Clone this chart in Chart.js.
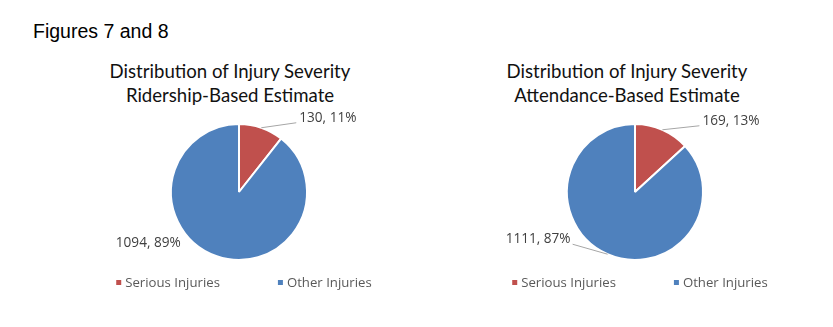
<!DOCTYPE html>
<html>
<head>
<meta charset="utf-8">
<script src="https://cdn.jsdelivr.net/npm/chart.js@4"></script>
<style>
  html, body { margin: 0; padding: 0; background: #fff; overflow: hidden; }
  body { width: 833px; height: 327px; position: relative; }
  .fig { position: absolute; left: 33px; top: 20px; font: 19.5px "Liberation Sans", Arial, sans-serif; color: #000; }
  .ttl { position: absolute; top: 59px; width: 400px; text-align: center; font: 18.6px Lato, sans-serif; line-height: 24px; color: #111; }
  .box { position: absolute; top: 0; width: 390px; height: 327px; }
</style>
</head>
<body>
<div class="fig">Figures 7 and 8</div>
<div class="ttl" id="t1" style="left:30px"></div>
<div class="ttl" id="t2" style="left:427px"></div>
<div class="box" style="left:44px"><canvas id="pie1"></canvas></div>
<div class="box" style="left:440px"><canvas id="pie2"></canvas></div>
<script>
(() => {
  'use strict';

  const categories = ['Serious Injuries', 'Other Injuries'];
  const ridership = [130, 1094];
  const ridershipPct = [11, 89];
  const attendance = [169, 1111];
  const attendancePct = [13, 87];
  const titles1 = ['Distribution of Injury Severity', 'Ridership-Based Estimate'];
  const titles2 = ['Distribution of Injury Severity', 'Attendance-Based Estimate'];

  const colors = ['#C0504D', '#4F81BD'];

  document.getElementById('t1').innerHTML = titles1.join('<br>');
  document.getElementById('t2').innerHTML = titles2.join('<br>');

  // labels "value, pct%" with leader lines, placed relative to the arc edge
  const pieLabels = {
    id: 'pieLabels',
    afterDatasetsDraw(chart, args, opts) {
      const c = chart.ctx;
      const meta = chart.getDatasetMeta(0);
      const vals = chart.data.datasets[0].data;
      c.save();
      c.font = '13.6px "Open Sans", sans-serif';
      c.fillStyle = '#404040';
      c.textBaseline = 'middle';
      meta.data.forEach((arc, i) => {
        const p = arc.getProps(['x', 'y', 'startAngle', 'endAngle', 'outerRadius'], true);
        const mid = (p.startAngle + p.endAngle) / 2;
        const ex = p.x + Math.cos(mid) * p.outerRadius;
        const ey = p.y + Math.sin(mid) * p.outerRadius;
        const s = opts.spots[i];
        const tx = ex + s.dx;
        const ty = ey + s.dy;
        if (s.line) {
          c.strokeStyle = '#A6A6A6';
          c.lineWidth = 1;
          c.beginPath();
          c.moveTo(ex, ey);
          c.lineTo(s.align === 'left' ? tx - 3 : tx + 2, ty + 5);
          c.stroke();
        }
        c.textAlign = s.align;
        c.fillText(vals[i] + ', ' + opts.pct[i] + '%', tx, ty);
      });
      c.restore();
    }
  };

  // legend with small square markers, wide gap between items
  const pieLegend = {
    id: 'pieLegend',
    afterDraw(chart) {
      const c = chart.ctx;
      const area = chart.chartArea;
      c.save();
      c.font = '13.2px "Open Sans", sans-serif';
      c.textBaseline = 'middle';
      const labels = chart.data.labels;
      const gap = 58;
      const widths = labels.map(l => 9 + c.measureText(l).width);
      const total = widths.reduce((a, b) => a + b, 0) + gap * (labels.length - 1);
      let x = (area.left + area.right) / 2 + 5 - total / 2;
      const y = 283;
      labels.forEach((l, i) => {
        c.fillStyle = chart.data.datasets[0].backgroundColor[i];
        c.fillRect(x, y - 3, 5, 5);
        c.fillStyle = '#595959';
        c.textAlign = 'left';
        c.fillText(l, x + 9, y);
        x += widths[i] + gap;
      });
      c.restore();
    }
  };

  function makePie(id, values, pct, spots) {
    return new Chart(document.getElementById(id), {
      type: 'pie',
      data: {
        labels: categories,
        datasets: [{
          data: values,
          backgroundColor: colors,
          borderColor: '#ffffff',
          borderWidth: 2
        }]
      },
      options: {
        responsive: true,
        maintainAspectRatio: false,
        animation: false,
        radius: 68,
        layout: { padding: { top: 100, bottom: 43 } },
        plugins: {
          legend: { display: false },
          tooltip: { enabled: false },
          pieLabels: { pct: pct, spots: spots }
        }
      },
      plugins: [pieLabels, pieLegend]
    });
  }

  makePie('pie1', ridership, ridershipPct, [
    { dx: 38, dy: -10, align: 'left', line: true },
    { dx: -36, dy: -13, align: 'right', line: false }
  ]);
  makePie('pie2', attendance, attendancePct, [
    { dx: 40, dy: -9, align: 'left', line: true },
    { dx: -37, dy: -15, align: 'right', line: true }
  ]);
})();
</script>
</body>
</html>
